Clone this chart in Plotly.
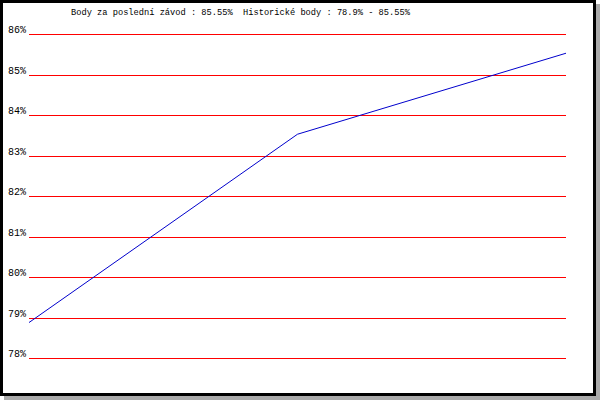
import plotly.graph_objects as go

races = ["1", "2", "3"]
points = [78.9, 83.55, 85.55]
tick_vals = [78, 79, 80, 81, 82, 83, 84, 85, 86]
tick_text = ["78%", "79%", "80%", "81%", "82%", "83%", "84%", "85%", "86%"]
title_text = "Body za poslední závod : 85.55%  Historické body : 78.9% - 85.55%"

W, H = 600, 400
EPS = 0.03
PPU = 40.5  # pixels per percent

def px(x):
    return x / W

def py(y):
    return 1 - y / H

fig = go.Figure()
fig.add_trace(go.Scatter(
    x=list(range(len(races))), y=points, mode="lines",
    line=dict(color="#0000CC", width=1), hoverinfo="skip", showlegend=False,
))

shapes = [
    dict(type="rect", xref="paper", yref="paper", x0=px(4), x1=px(600), y0=py(400), y1=py(4),
         fillcolor="#AAAAAA", line=dict(width=0), layer="below"),
    dict(type="rect", xref="paper", yref="paper", x0=px(1.5), x1=px(594.5), y0=py(394.5), y1=py(1.5),
         fillcolor="white", line=dict(color="black", width=3), layer="below"),
]

fig.update_layout(
    width=W, height=H, autosize=False,
    margin=dict(l=0, r=0, t=0, b=0, pad=0, autoexpand=False),
    paper_bgcolor="white",
    plot_bgcolor="rgba(0,0,0,0)",
    shapes=shapes,
    xaxis=dict(visible=False, range=[0, len(races) - 1], domain=[px(29), px(566)], automargin=False),
    yaxis=dict(
        range=[78 - EPS, 86 + EPS], tickvals=tick_vals, ticktext=tick_text,
        showgrid=True, gridcolor="#FF0000", gridwidth=1,
        zeroline=False, showline=False, ticks="", automargin=False,
        ticklabelshift=-5, ticklabelstandoff=2,
        tickfont=dict(family="Liberation Mono", size=10, color="black"),
        domain=[py(359 + EPS * PPU), py(35 - EPS * PPU)],
    ),
    annotations=[dict(
        text=title_text, xref="paper", yref="paper", x=px(241), y=py(13),
        xanchor="center", yanchor="middle", showarrow=False,
        font=dict(family="Liberation Mono", size=8.7, color="black"),
    )],
)

fig.write_html(
    "out.html",
    config={"displayModeBar": False, "responsive": False},
    post_script="document.body.style.margin='0';document.body.style.overflow='hidden';",
)
